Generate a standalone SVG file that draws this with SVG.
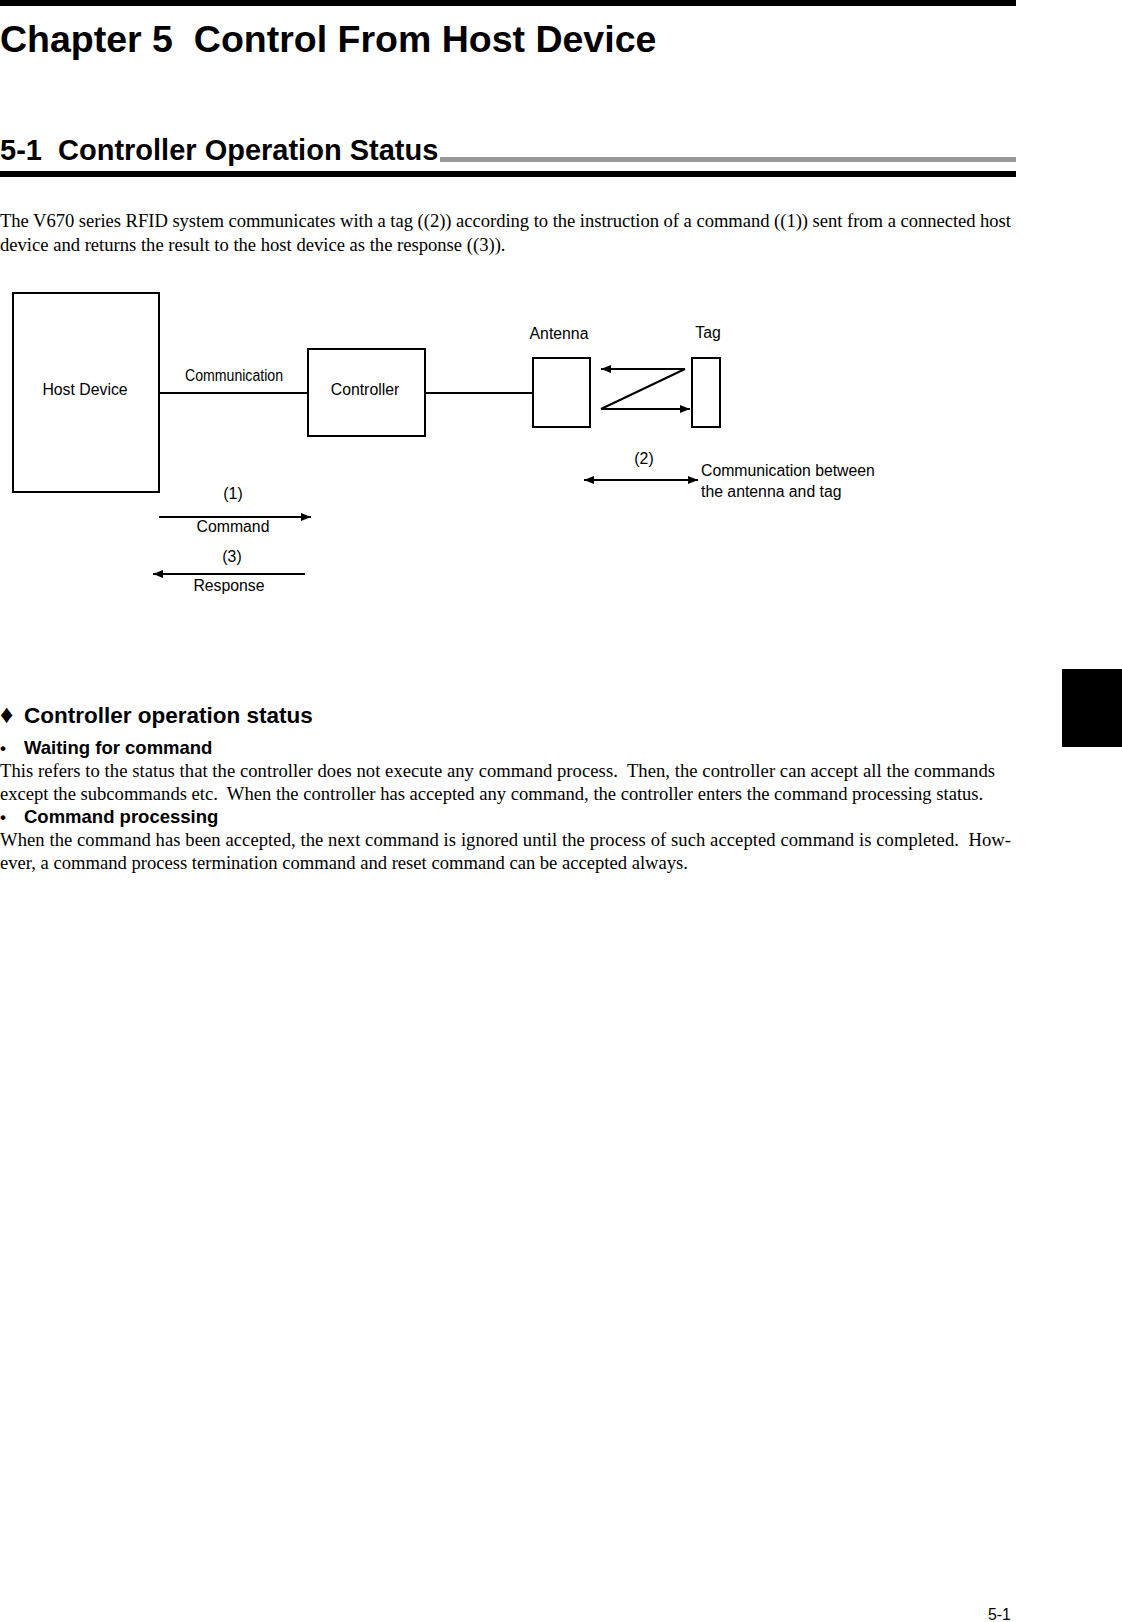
<svg xmlns="http://www.w3.org/2000/svg" width="1122" height="1622" viewBox="0 0 1122 1622">
<style>
text{white-space:pre}
.h{font-family:"Liberation Sans",Arial,sans-serif;font-weight:bold;fill:#000}
.t{font-family:"Liberation Serif","Times New Roman",serif;font-size:18.6px;fill:#000}
.l{font-family:"Liberation Sans",Arial,sans-serif;font-size:15.8px;fill:#000}
.c{text-anchor:middle}
.box{fill:#fff;stroke:#000;stroke-width:2}
.ln{stroke:#000;stroke-width:2;fill:none}
</style>
<defs>
<marker id="ah" viewBox="0 0 10 10" refX="10" refY="5" markerWidth="11" markerHeight="10" markerUnits="userSpaceOnUse" orient="auto-start-reverse"><path d="M0,1 L10,5 L0,9 Z" fill="#000"/></marker>
</defs>
<rect width="1122" height="1622" fill="#fff"/>
<rect x="0" y="0" width="1016" height="6" fill="#000"/>
<text class="h" x="0" y="52" font-size="37.5">Chapter 5  Control From Host Device</text>
<text class="h" x="0" y="160" font-size="29">5-1  Controller Operation Status</text>
<rect x="440" y="157" width="576" height="5" fill="#999"/>
<rect x="0" y="171" width="1016" height="6" fill="#000"/>
<text class="t" x="0" y="227" textLength="1011" lengthAdjust="spacing">The V670 series RFID system communicates with a tag ((2)) according to the instruction of a command ((1)) sent from a connected host</text>
<text class="t" x="0" y="251">device and returns the result to the host device as the response ((3)).</text>
<g id="connectors">
<line class="ln" x1="159" y1="393" x2="308" y2="393"/>
<line class="ln" x1="425" y1="393" x2="533" y2="393"/>
<line class="ln" x1="685" y1="369" x2="601" y2="369" marker-end="url(#ah)"/>
<line class="ln" x1="685" y1="369" x2="601" y2="409"/>
<line class="ln" x1="601" y1="409" x2="690" y2="409" marker-end="url(#ah)"/>
<line class="ln" x1="584" y1="480" x2="698" y2="480" marker-start="url(#ah)" marker-end="url(#ah)"/>
<line class="ln" x1="159" y1="517" x2="311" y2="517" marker-end="url(#ah)"/>
<line class="ln" x1="305" y1="574" x2="153" y2="574" marker-end="url(#ah)"/>
</g>
<g id="host"><rect class="box" x="13" y="293" width="146" height="199"/><text class="l c" x="85" y="395">Host Device</text></g>
<g id="controller"><rect class="box" x="308" y="349" width="117" height="87"/><text class="l c" x="365" y="395">Controller</text></g>
<g id="antenna"><rect class="box" x="533" y="358" width="57" height="69"/><text class="l c" x="559" y="339">Antenna</text></g>
<g id="tag"><rect class="box" x="692" y="358" width="28" height="69"/><text class="l c" x="708" y="338">Tag</text></g>
<text class="l c" x="234" y="381" font-size="14.5" textLength="98" lengthAdjust="spacingAndGlyphs">Communication</text>
<text class="l c" x="644" y="464">(2)</text>
<text class="l" x="701" y="476">Communication between</text>
<text class="l" x="701" y="497">the antenna and tag</text>
<text class="l c" x="233" y="499">(1)</text>
<text class="l c" x="233" y="532">Command</text>
<text class="l c" x="232" y="562">(3)</text>
<text class="l c" x="229" y="591">Response</text>
<rect x="1062" y="669" width="60" height="78" fill="#000"/>
<text class="h" x="0" y="723" font-size="26">♦</text>
<text class="h" x="24" y="723" font-size="22.5">Controller operation status</text>
<text class="h" x="0" y="754" font-size="17">•</text>
<text class="h" x="24" y="754" font-size="18.5">Waiting for command</text>
<text class="t" x="0" y="777" textLength="995" lengthAdjust="spacing">This refers to the status that the controller does not execute any command process.  Then, the controller can accept all the commands</text>
<text class="t" x="0" y="800">except the subcommands etc.  When the controller has accepted any command, the controller enters the command processing status.</text>
<text class="h" x="0" y="823" font-size="17">•</text>
<text class="h" x="24" y="823" font-size="18.5">Command processing</text>
<text class="t" x="0" y="846" textLength="1011" lengthAdjust="spacing">When the command has been accepted, the next command is ignored until the process of such accepted command is completed.  How-</text>
<text class="t" x="0" y="869">ever, a command process termination command and reset command can be accepted always.</text>
<text class="l" x="988" y="1620" font-size="16">5-1</text>
</svg>
